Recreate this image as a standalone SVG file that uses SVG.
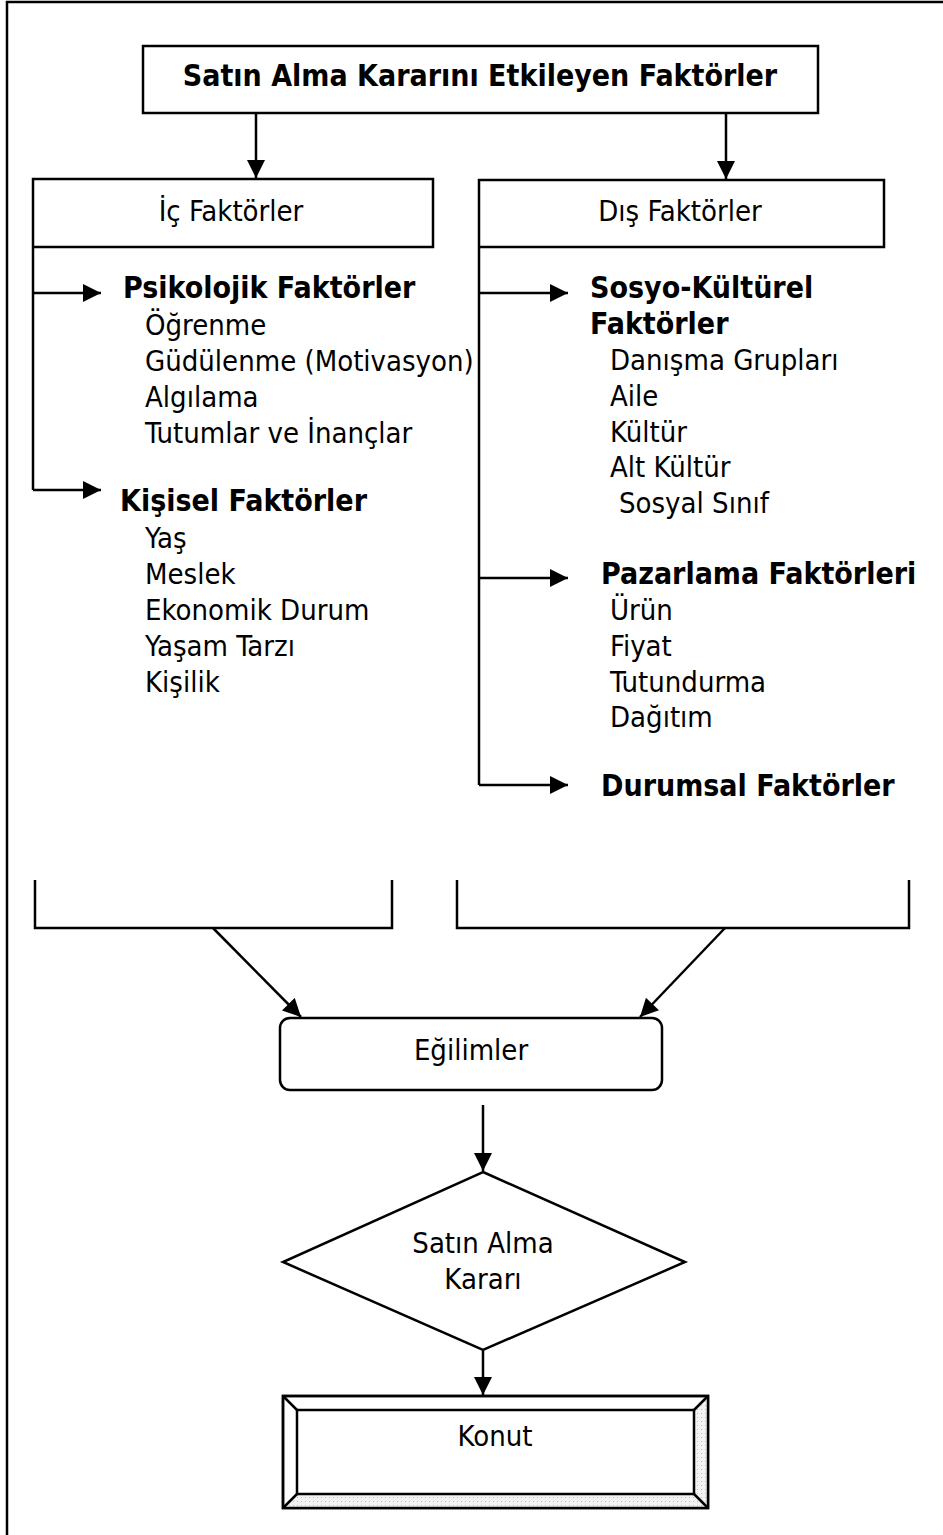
<svg xmlns="http://www.w3.org/2000/svg" width="943" height="1535" viewBox="0 0 943 1535">
  <style>
    .box { fill: #fff; stroke: #000; stroke-width: 2.5; }
    .ln { fill: none; stroke: #000; stroke-width: 2.5; }
    .t { font-family: "DejaVu Sans Condensed", "DejaVu Sans", Tahoma, sans-serif; font-stretch: condensed; font-size: 29px; fill: #000; }
    .b { font-family: "DejaVu Sans Condensed", "DejaVu Sans", Tahoma, sans-serif; font-stretch: condensed; font-size: 30px; font-weight: bold; fill: #000; }
    .c { text-anchor: middle; }
  </style>
  <defs>
    <marker id="arr" viewBox="0 0 10 10" refX="10" refY="5" markerWidth="20" markerHeight="18" markerUnits="userSpaceOnUse" orient="auto">
      <path d="M0,0 L10,5 L0,10 Z" fill="#000"/>
    </marker>
    <!-- light stipple used on the shaded bevel of the result box -->
    <pattern id="stipple" width="4" height="4" patternUnits="userSpaceOnUse">
      <rect width="4" height="4" fill="#f2f2f2"/>
      <rect x="1" y="1" width="1" height="1" fill="#bdbdbd"/>
    </pattern>
  </defs>

  <rect width="943" height="1535" fill="#fff"/>
  <!-- page frame -->
  <path class="ln" d="M7,1535 V2 H943"/>

  <g id="title">
    <rect class="box" x="143" y="46" width="675" height="67"/>
    <text class="b c" x="480" y="86" font-size="31">Satın Alma Kararını Etkileyen Faktörler</text>
  </g>

  <g id="ic-faktorler">
    <path class="ln" d="M33,490 V179 H433 V247 H33"/>
    <text class="t c" x="231" y="221">İç Faktörler</text>
  </g>

  <g id="dis-faktorler">
    <path class="ln" d="M479,785 V180 H884 V247 H479"/>
    <text class="t c" x="680" y="221">Dış Faktörler</text>
  </g>

  <g id="psikolojik">
    <text class="b" x="123" y="298">Psikolojik Faktörler</text>
    <text class="t" x="145" y="335">Öğrenme</text>
    <text class="t" x="145" y="371">Güdülenme (Motivasyon)</text>
    <text class="t" x="145" y="407">Algılama</text>
    <text class="t" x="145" y="443">Tutumlar ve İnançlar</text>
  </g>

  <g id="kisisel">
    <text class="b" x="120" y="511">Kişisel Faktörler</text>
    <text class="t" x="145" y="548">Yaş</text>
    <text class="t" x="145" y="584">Meslek</text>
    <text class="t" x="145" y="620">Ekonomik Durum</text>
    <text class="t" x="145" y="656">Yaşam Tarzı</text>
    <text class="t" x="145" y="692">Kişilik</text>
  </g>

  <g id="sosyo-kulturel">
    <text class="b" x="590" y="298">Sosyo-Kültürel</text>
    <text class="b" x="590" y="334">Faktörler</text>
    <text class="t" x="610" y="370">Danışma Grupları</text>
    <text class="t" x="610" y="406">Aile</text>
    <text class="t" x="610" y="442">Kültür</text>
    <text class="t" x="610" y="477">Alt Kültür</text>
    <text class="t" x="619" y="513">Sosyal Sınıf</text>
  </g>

  <g id="pazarlama">
    <text class="b" x="601" y="584">Pazarlama Faktörleri</text>
    <text class="t" x="610" y="620">Ürün</text>
    <text class="t" x="610" y="656">Fiyat</text>
    <text class="t" x="610" y="692">Tutundurma</text>
    <text class="t" x="610" y="727">Dağıtım</text>
  </g>

  <g id="durumsal">
    <text class="b" x="601" y="796">Durumsal Faktörler</text>
  </g>

  <g id="sol-toplayici">
    <path class="ln" d="M35,880 V928 H392 V880"/>
  </g>
  <g id="sag-toplayici">
    <path class="ln" d="M457,880 V928 H909 V880"/>
  </g>

  <g id="egilimler">
    <rect class="box" x="280" y="1018" width="382" height="72" rx="10"/>
    <text class="t c" x="471" y="1060">Eğilimler</text>
  </g>

  <g id="karar">
    <polygon class="box" points="483,1172 685,1262 483,1350 283,1262"/>
    <text class="t c" x="483" y="1253">Satın Alma</text>
    <text class="t c" x="483" y="1289">Kararı</text>
  </g>

  <g id="konut">
    <rect class="box" x="283" y="1396" width="425" height="112"/>
    <path d="M694,1410 L708,1396 V1508 H283 L297,1494 H694 Z" fill="url(#stipple)"/>
    <rect class="ln" x="283" y="1396" width="425" height="112"/>
    <rect class="ln" x="297" y="1410" width="397" height="84"/>
    <path class="ln" d="M283,1396 L297,1410 M708,1396 L694,1410 M283,1508 L297,1494 M708,1508 L694,1494" stroke-width="2"/>
    <text class="t c" x="495" y="1446">Konut</text>
  </g>

  <g id="baglantilar">
    <path class="ln" d="M256,113 V178" marker-end="url(#arr)"/>
    <path class="ln" d="M726,113 V179" marker-end="url(#arr)"/>
    <path class="ln" d="M33,293 H101" marker-end="url(#arr)"/>
    <path class="ln" d="M33,490 H101" marker-end="url(#arr)"/>
    <path class="ln" d="M479,293 H568" marker-end="url(#arr)"/>
    <path class="ln" d="M479,578 H568" marker-end="url(#arr)"/>
    <path class="ln" d="M479,785 H568" marker-end="url(#arr)"/>
    <path class="ln" d="M213,928 L301,1017" marker-end="url(#arr)"/>
    <path class="ln" d="M725,928 L640,1017" marker-end="url(#arr)"/>
    <path class="ln" d="M483,1105 V1171" marker-end="url(#arr)"/>
    <path class="ln" d="M483,1351 V1395" marker-end="url(#arr)"/>
  </g>
</svg>
